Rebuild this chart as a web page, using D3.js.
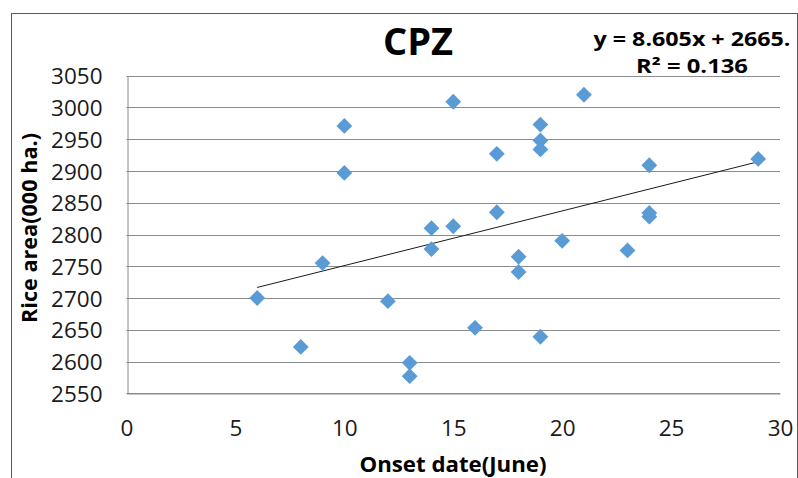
<!DOCTYPE html>
<html>
<head>
<meta charset="utf-8">
<script src="https://cdn.jsdelivr.net/npm/d3@7"></script>
<style>
  html, body { margin: 0; padding: 0; background: #fff; }
  svg { display: block; }
</style>
</head>
<body>
<svg id="chart" width="798" height="478"></svg>
<script>
// ---- data ----
const onsetDates = [6, 8, 9, 10, 10, 12, 13, 13, 14, 14, 15, 15, 16, 17, 17, 18, 18, 19, 19, 19, 19, 20, 21, 23, 24, 24, 24, 29];
const riceArea   = [2700, 2623, 2755, 2971, 2897, 2695, 2598, 2577, 2810, 2777, 3009, 2813, 2653, 2927, 2835, 2765, 2741, 2973, 2948, 2934, 2639, 2790, 3020, 2775, 2909, 2834, 2828, 2919];
const xTicks = [0, 5, 10, 15, 20, 25, 30];
const yTicks = [2550, 2600, 2650, 2700, 2750, 2800, 2850, 2900, 2950, 3000, 3050];
const trendSlope = 8.605;
const trendIntercept = 2665;
const titleText = "CPZ";
const equationText = "y = 8.605x + 2665.";
const r2Text = "R² = 0.136";
const xTitle = "Onset date(June)";
const yTitle = "Rice area(000 ha.)";

// ---- layout ----
const svg = d3.select("#chart");
const plot = { left: 126.5, right: 780, top: 75.7, bottom: 393.3 };
const x = d3.scaleLinear().domain([0, 30]).range([plot.left, plot.right]);
const y = d3.scaleLinear().domain([2550, 3050]).range([plot.bottom, plot.top]);
const font = "'Open Sans', 'Noto Sans', sans-serif";

// outer border
svg.append("rect")
  .attr("x", 11.5).attr("y", 13.5)
  .attr("width", 786).attr("height", 520)
  .attr("fill", "none").attr("stroke", "#595959").attr("stroke-width", 1);

// gridlines
svg.append("g")
  .selectAll("line").data(yTicks).join("line")
  .attr("x1", plot.left).attr("x2", plot.right)
  .attr("y1", d => Math.round(y(d)) + 0.5).attr("y2", d => Math.round(y(d)) + 0.5)
  .attr("stroke", "#8c8c8c").attr("stroke-width", 1);

// y axis
const yAxis = svg.append("g")
  .attr("transform", `translate(${Math.round(plot.left) + 0.5},0)`)
  .call(d3.axisLeft(y).tickValues(yTicks).tickSize(0).tickPadding(25).tickFormat(d3.format("d")));
yAxis.select(".domain").attr("stroke", "#8c8c8c");
yAxis.selectAll("text").attr("font-family", font).attr("font-size", 22.5).attr("fill", "#1a1a1a").attr("dy", "0.36em");

// x axis
const xAxis = svg.append("g")
  .attr("transform", `translate(0,${Math.round(plot.bottom) + 0.5})`)
  .call(d3.axisBottom(x).tickValues(xTicks).tickSize(0).tickPadding(27).tickFormat(d3.format("d")));
xAxis.select(".domain").attr("stroke", "#8c8c8c");
xAxis.selectAll("text").attr("font-family", font).attr("font-size", 22.5).attr("fill", "#1a1a1a");

// trend line
const xMin = d3.min(onsetDates), xMax = d3.max(onsetDates);
svg.append("line")
  .attr("x1", x(xMin)).attr("y1", y(trendSlope * xMin + trendIntercept))
  .attr("x2", x(xMax)).attr("y2", y(trendSlope * xMax + trendIntercept))
  .attr("stroke", "#1a1a1a").attr("stroke-width", 1);

// points (diamonds)
const diamond = d3.symbol().type(d3.symbolSquare).size(125);
svg.append("g")
  .selectAll("path").data(onsetDates.map((d, i) => [d, riceArea[i]])).join("path")
  .attr("d", diamond)
  .attr("transform", d => `translate(${x(d[0])},${y(d[1])}) rotate(45)`)
  .attr("fill", "#5b9bd5");

// title
svg.append("text")
  .attr("x", 418).attr("y", 55)
  .attr("text-anchor", "middle")
  .attr("font-family", font).attr("font-weight", "bold").attr("font-size", 38)
  .attr("fill", "#000").text(titleText);

// equation
svg.append("text")
  .attr("x", 692).attr("y", 46)
  .attr("text-anchor", "middle")
  .attr("font-family", font).attr("font-weight", "bold").attr("font-size", 19)
  .attr("textLength", 197).attr("lengthAdjust", "spacingAndGlyphs")
  .attr("fill", "#000").text(equationText);
svg.append("text")
  .attr("x", 692).attr("y", 73)
  .attr("text-anchor", "middle")
  .attr("font-family", font).attr("font-weight", "bold").attr("font-size", 19)
  .attr("textLength", 112).attr("lengthAdjust", "spacingAndGlyphs")
  .attr("fill", "#000").text(r2Text);

// axis titles
svg.append("text")
  .attr("x", 453).attr("y", 472)
  .attr("text-anchor", "middle")
  .attr("font-family", font).attr("font-weight", "bold").attr("font-size", 20.5)
  .attr("textLength", 187).attr("lengthAdjust", "spacingAndGlyphs")
  .attr("fill", "#000").text(xTitle);
svg.append("text")
  .attr("transform", "translate(37,228) rotate(-90)")
  .attr("text-anchor", "middle")
  .attr("font-family", font).attr("font-weight", "bold").attr("font-size", 20.5)
  .attr("textLength", 190).attr("lengthAdjust", "spacingAndGlyphs")
  .attr("fill", "#000").text(yTitle);
</script>
</body>
</html>
